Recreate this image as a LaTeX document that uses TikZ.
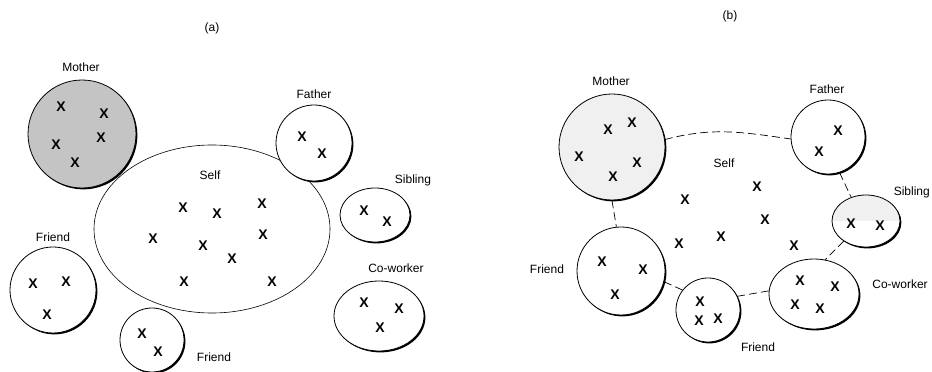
\documentclass[tikz,border=0pt]{standalone}
\usepackage{fontspec}
\setmainfont{Liberation Sans}
\usetikzlibrary{shapes.geometric,shadows}
\definecolor{stipdark}{RGB}{196,196,196}
\definecolor{stiplight}{RGB}{240,240,240}

\tikzset{
  member/.style={circle, draw, line width=0.8pt, fill=white, inner sep=0pt,
    drop shadow={shadow xshift=1.4pt, shadow yshift=-1.4pt, fill=black, opacity=1}},
  oval/.style={member, ellipse},
  tag/.style={font=\fontsize{12}{14}\selectfont, inner sep=1pt},
  xsign/.style={font=\fontsize{14}{14}\selectfont\bfseries, inner sep=0pt},
  selfedge/.style={line width=0.7pt, dash pattern=on 8pt off 4pt}
}

\begin{document}
\begin{tikzpicture}[x=1pt, y=1pt]
\useasboundingbox (0,0) rectangle (932,372);

% ---- (a): the self as one closed ellipse ----
\node[tag] (capA) at (212,344) {(a)};
\node[draw, ellipse, line width=0.6pt, minimum width=236pt, minimum height=168pt] (selfA) at (212,143) {};
\node[tag] (selfAtag) at (210,197) {Self};
\foreach \p [count=\i] in {{183,164},{217,158},{262,168},{153,133},{203,126},{263,137},{232,113},{184,90},{272,90}}
  \node[xsign] (sa\i) at (\p) {X};

% others around it
\node[member, fill=stipdark, minimum size=108pt] (motherA) at (82,238) {};
\node[tag] (motherAtag) at (81,305) {Mother};
\foreach \p [count=\i] in {{61,265},{104,258},{56,227},{101,234},{75,209}}
  \node[xsign] (ma\i) at (\p) {X};

\node[member, minimum size=76pt] (fatherA) at (314,229) {};
\node[tag] (fatherAtag) at (314,278) {Father};
\foreach \p [count=\i] in {{302,235},{322,218}}
  \node[xsign] (fa\i) at (\p) {X};

\node[oval, minimum width=70pt, minimum height=54pt] (siblingA) at (375,157) {};
\node[tag] (siblingAtag) at (413,192) {Sibling};
\foreach \p [count=\i] in {{364,161},{387,150}}
  \node[xsign] (sba\i) at (\p) {X};

\node[oval, minimum width=90pt, minimum height=70pt] (coworkerA) at (379,56) {};
\node[tag] (coworkerAtag) at (396,104) {Co-worker};
\foreach \p [count=\i] in {{364,69},{399,63},{380,44}}
  \node[xsign] (ca\i) at (\p) {X};

\node[member, minimum size=86pt] (friendA1) at (53,82) {};
\node[tag] (friendA1tag) at (53,135) {Friend};
\foreach \p [count=\i] in {{33,88},{66,90},{47,57}}
  \node[xsign] (fra\i) at (\p) {X};

\node[member, minimum size=64pt] (friendA2) at (152,32) {};
\node[tag] (friendA2tag) at (214,15) {Friend};
\foreach \p [count=\i] in {{142,38},{158,20}}
  \node[xsign] (frb\i) at (\p) {X};

% ---- (b): the self made up of the others ----
\node[tag] (capB) at (730,356) {(b)};
\node[tag] (selfBtag) at (724,209) {Self};
\foreach \p [count=\i] in {{757,185},{685,172},{765,152},{721,135},{679,128},{794,126}}
  \node[xsign] (sb\i) at (\p) {X};

\node[member, fill=stiplight, minimum size=106pt] (motherB) at (612,225) {};
\node[tag] (motherBtag) at (611,291) {Mother};
\foreach \p [count=\i] in {{608,242},{632,249},{579,215},{637,209},{613,195}}
  \node[xsign] (mb\i) at (\p) {X};

\node[member, minimum size=74pt] (fatherB) at (828,235) {};
\node[tag] (fatherBtag) at (827,283) {Father};
\foreach \p [count=\i] in {{838,241},{819,220}}
  \node[xsign] (fb\i) at (\p) {X};

\node[oval, minimum width=68pt, minimum height=52pt,
  path picture={\fill[stiplight] (path picture bounding box.west) rectangle (path picture bounding box.north east);}] (siblingB) at (866,151) {};
\node[tag, anchor=east] (siblingBtag) at (931,180) {Sibling};
\foreach \p [count=\i] in {{851,148},{880,146}}
  \node[xsign] (sbb\i) at (\p) {X};

\node[oval, minimum width=90pt, minimum height=70pt] (coworkerB) at (814,78) {};
\node[tag] (coworkerBtag) at (900,88) {Co-worker};
\foreach \p [count=\i] in {{800,91},{835,85},{795,67},{820,63}}
  \node[xsign] (cb\i) at (\p) {X};

\node[member, minimum size=88pt] (friendB1) at (621,101) {};
\node[tag] (friendB1tag) at (547,103) {Friend};
\foreach \p [count=\i] in {{602,110},{643,102},{615,77}}
  \node[xsign] (frc\i) at (\p) {X};

\node[member, minimum size=64pt] (friendB2) at (708,62) {};
\node[tag] (friendB2tag) at (758,25) {Friend};
\foreach \p [count=\i] in {{700,70},{699,51},{718,53}}
  \node[xsign] (frd\i) at (\p) {X};

% dashed rim of the self between the others
\draw[selfedge] (motherB.8) to[out=15, in=172] (fatherB.183);
\draw[selfedge] (fatherB.-72) -- (siblingB.122);
\draw[selfedge] (siblingB.222) -- (coworkerB.72);
\draw[selfedge] (coworkerB.176) -- (friendB2.25);
\draw[selfedge] (friendB2.142) -- (friendB1.-14);
\draw[selfedge] (motherB.-90) -- (friendB1.96);
\end{tikzpicture}
\end{document}
